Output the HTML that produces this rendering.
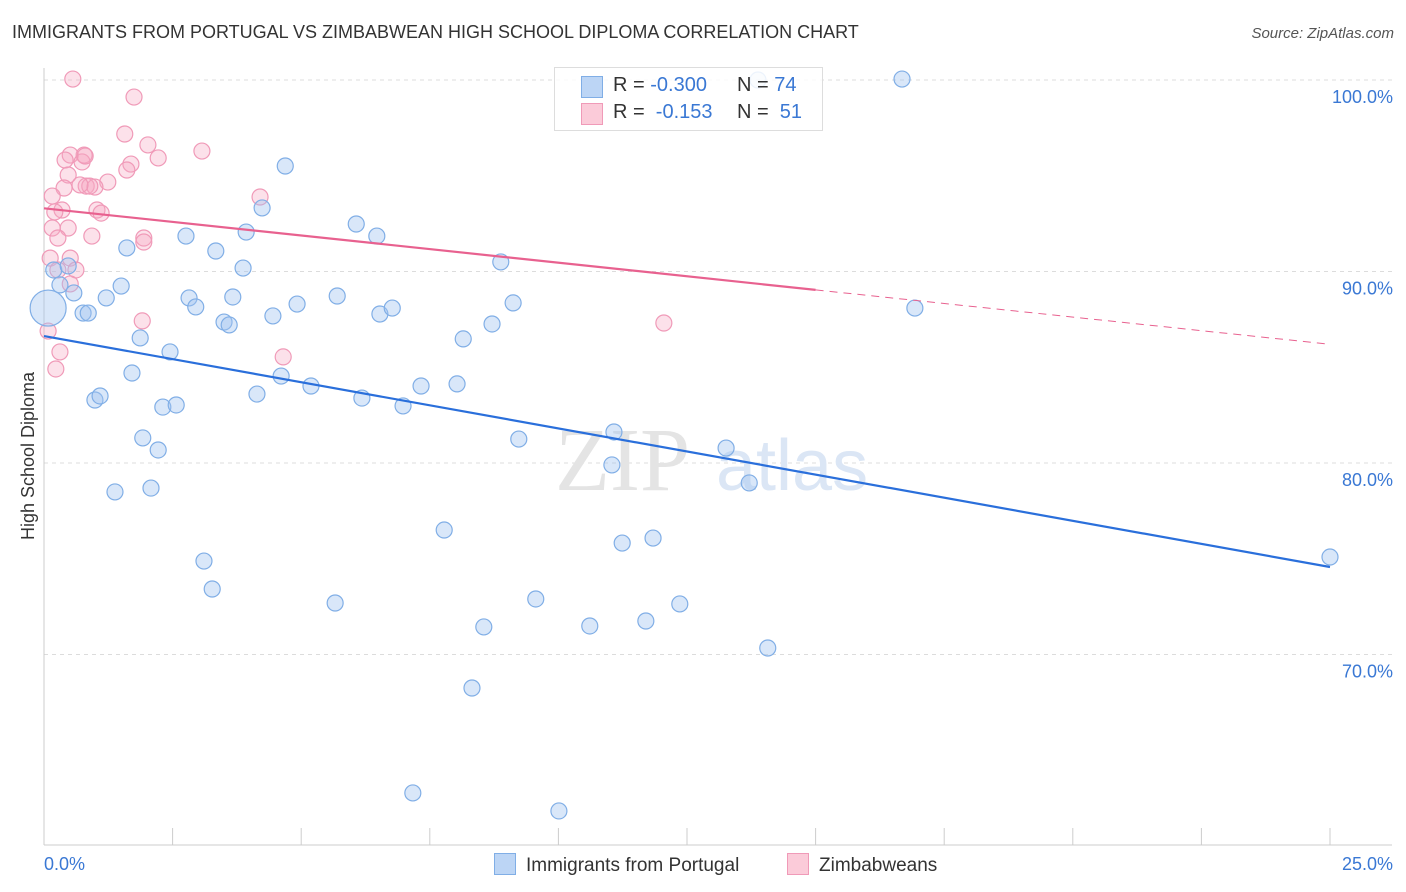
<!DOCTYPE html>
<html><head><meta charset="utf-8"><style>
body{margin:0;background:#fff;font-family:"Liberation Sans",sans-serif;}
#wrap{position:relative;width:1406px;height:892px;overflow:hidden;}
.t{position:absolute;white-space:nowrap;}
</style></head><body>
<div id="wrap">
<div class="t" style="left:12px;top:22px;font-size:18px;color:#333;">IMMIGRANTS FROM PORTUGAL VS ZIMBABWEAN HIGH SCHOOL DIPLOMA CORRELATION CHART</div>
<div class="t" style="right:12px;top:25px;font-size:15px;color:#555;font-style:italic;">Source: ZipAtlas.com</div>
<svg id="svg" width="1406" height="892" style="position:absolute;left:0;top:0"></svg>
</div>
<script>
const xTicksLabels=["0.0%","25.0%"];
const yTickValues=[100,90,80,70];
const blueX=[.08,.19,.31,.58,.76,.86,.47,1.21,1.50,1.61,1.87,1.71,.99,1.09,1.92,1.38,2.08,2.22,2.31,2.57,2.45,2.76,2.82,2.95,3.34,3.50,3.60,3.67,3.87,3.93,4.24,4.69,4.14,4.45,4.61,4.92,5.19,5.70,6.07,6.47,6.53,6.77,6.18,6.98,7.33,8.03,8.15,8.71,8.88,9.12,9.23,7.78,3.11,3.27,5.66,8.55,8.32,9.56,10.61,11.04,11.08,11.24,11.70,11.84,12.36,13.26,13.71,14.07,16.68,16.93,13.88,25.0,7.17,10.01];
const blueY=[88.09,90.08,89.30,88.88,87.83,87.83,90.29,88.62,89.24,91.23,86.53,84.70,83.29,83.50,81.31,78.49,78.69,80.68,82.92,83.03,85.80,91.85,88.62,88.15,91.07,87.36,87.21,88.67,90.18,92.06,93.32,95.51,83.60,87.68,84.54,88.30,84.02,88.72,92.48,91.85,87.78,88.09,83.39,82.98,84.02,84.13,86.48,87.26,90.50,88.36,81.25,76.50,74.88,73.42,72.69,71.44,68.25,72.90,71.49,79.90,81.62,75.82,71.75,76.08,72.64,80.78,78.96,70.34,100.05,88.09,100.0,75.09,62.77,61.83];
const pinkX=[.56,1.75,1.57,2.02,2.22,3.07,1.69,1.61,.78,.51,.41,.74,.47,1.24,.82,.99,.89,.39,.16,4.20,.35,1.03,1.11,.21,.16,.47,.27,.93,1.94,1.94,.12,.51,.62,.27,.51,1.91,.31,.23,.08,12.05,4.65,.80,.70];
const pinkY=[100.05,99.11,97.18,96.61,95.93,96.29,95.61,95.30,96.08,96.08,95.82,95.72,95.04,94.67,94.46,94.41,94.46,94.36,93.94,93.89,93.21,93.21,93.05,93.11,92.27,92.27,91.75,91.85,91.75,91.54,90.70,90.70,90.08,90.08,89.35,87.42,85.80,84.91,86.89,87.31,85.54,96.03,94.52];
const blueTrend=[86.63,74.57];
const pinkTrend=[93.3,86.2];
const pinkSolidEnd=15;

const X=v=>44+v*51.44, Y=v=>80+(100-v)*19.15;
const svg=document.getElementById('svg');
const NS='http://www.w3.org/2000/svg';
function mk(tag,attrs,parent){const e=document.createElementNS(NS,tag);for(const k in attrs)e.setAttribute(k,attrs[k]);(parent||svg).appendChild(e);return e;}
// gridlines
yTickValues.forEach(v=>{
 const g=mk('line',{x1:44,x2:1392,y1:Y(v),y2:Y(v),stroke:'#dcdcdc','stroke-dasharray':'4,4'});
 
 
 const t=mk('text',{x:1393,y:Y(v)+23,'text-anchor':'end','font-size':18,fill:'#3a78d4','font-family':'Liberation Sans, sans-serif'});
 t.textContent=v.toFixed(1)+'%';
 
 
});
// axes
const ax=mk('line',{x1:44,x2:1392,y1:845,y2:845,stroke:'#ccc'});


const ay=mk('line',{x1:44,x2:44,y1:68,y2:845,stroke:'#ccc'});


for(let i=0;i<=10;i++){const tk=mk('line',{x1:X(i*2.5),x2:X(i*2.5),y1:828,y2:845,stroke:'#ccc'});
 
 }
[[0,'start',44],[1,'end',1393]].forEach(([i,a,x])=>{const t=mk('text',{x:x,y:870,'text-anchor':a,'font-size':18,fill:'#3a78d4','font-family':'Liberation Sans, sans-serif'});t.textContent=xTicksLabels[i];
 
 });
const yt=mk('text',{x:34,y:456,'text-anchor':'middle','font-size':18,fill:'#333',transform:'rotate(-90 34 456)','font-family':'Liberation Sans, sans-serif'});
yt.textContent='High School Diploma';


// watermark
const wm=mk('text',{x:555,y:490,'font-size':90,fill:'#e4e4e4','font-family':'Liberation Serif, serif'});wm.textContent='ZIP';


const wm2=mk('text',{x:716,y:490,'font-size':72,fill:'#dbe6f5','font-family':'Liberation Sans, sans-serif'});wm2.textContent='atlas';


// points
pinkX.forEach((x,i)=>{const c=mk('circle',{cx:X(x),cy:Y(pinkY[i]),r:8,fill:'rgba(246,170,196,0.35)',stroke:'#f09ab8','stroke-width':1.2});
 
 });
blueX.forEach((x,i)=>{const c=mk('circle',{cx:X(x),cy:Y(blueY[i]),r:i==0?18:8,fill:'rgba(160,196,240,0.4)',stroke:'#80aee6','stroke-width':1.2});
 
 });
// trends
const bt=mk('line',{x1:X(0),y1:Y(blueTrend[0]),x2:X(25),y2:Y(blueTrend[1]),stroke:'#2a6fdb','stroke-width':2.2});


const pm=pinkTrend[0]+(pinkTrend[1]-pinkTrend[0])*pinkSolidEnd/25;
const pt=mk('line',{x1:X(0),y1:Y(pinkTrend[0]),x2:X(pinkSolidEnd),y2:Y(pm),stroke:'#e8618f','stroke-width':2.2});


const pd=mk('line',{x1:X(pinkSolidEnd),y1:Y(pm),x2:X(25),y2:Y(pinkTrend[1]),stroke:'#e8618f','stroke-width':1,'stroke-dasharray':'8,6'});


</script>
<div class="t" style="left:554px;top:67px;width:267px;height:62px;border:1px solid #ddd;background:rgba(255,255,255,0.85);font-size:20px;">
 <div style="position:absolute;left:26px;top:8px;width:20px;height:20px;background:#bcd5f5;border:1px solid #80aee6;"></div>
 <div style="position:absolute;left:26px;top:35px;width:20px;height:20px;background:#fbcbd9;border:1px solid #f09ab8;"></div>
 <div class="t" style="left:58px;top:6px;color:#333">R = <span style="color:#3a78d4">-0.300</span></div>
 <div class="t" style="left:182px;top:6px;color:#333">N = <span style="color:#3a78d4">74</span></div>
 <div class="t" style="left:58px;top:33px;color:#333">R = &nbsp;<span style="color:#3a78d4">-0.153</span></div>
 <div class="t" style="left:182px;top:33px;color:#333">N = &nbsp;<span style="color:#3a78d4">51</span></div>
</div>
<div class="t" style="left:494px;top:853px;font-size:19px;color:#333;"><span style="display:inline-block;width:20px;height:20px;background:#bcd5f5;border:1px solid #80aee6;vertical-align:-4px;margin-right:10px"></span>Immigrants from Portugal</div>
<div class="t" style="left:787px;top:853px;font-size:19px;color:#333;"><span style="display:inline-block;width:20px;height:20px;background:#fbcbd9;border:1px solid #f09ab8;vertical-align:-4px;margin-right:10px"></span>Zimbabweans</div>
</body></html>
